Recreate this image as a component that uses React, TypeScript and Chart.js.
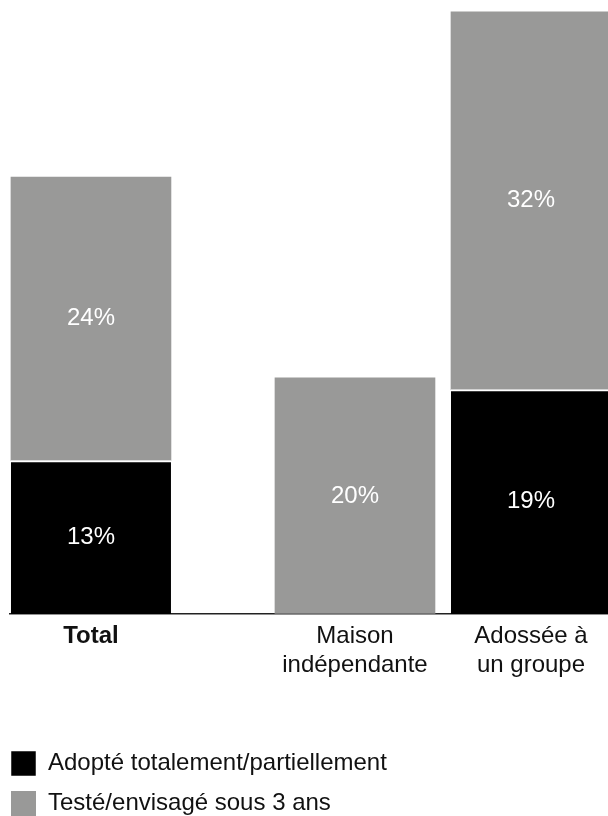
import React, { useEffect, useRef } from "react";
import { Chart, registerables } from "chart.js";

Chart.register(...registerables);

// Category slots (blank slots are spacers, as in the source chart)
const categories = ["Total", "", "", "Maison indépendante", "", "Adossée à un groupe"];
const tickLabels: string[][] = [["Total"], [], [], ["Maison", "indépendante"], [], ["Adossée à", "un groupe"]];
const adopte: (number | null)[] = [13, null, null, 0, null, 19];
const teste: (number | null)[] = [24, null, null, 20, null, 32];
const seriesNames = ["Adopté totalement/partiellement", "Testé/envisagé sous 3 ans"];

const FONT = "'Liberation Sans', Arial, Helvetica, sans-serif";

const valueLabels = {
  id: "valueLabels",
  afterDatasetsDraw(chart: any) {
    const ctx = chart.ctx;
    ctx.save();
    ctx.font = `24px ${FONT}`;
    ctx.fillStyle = "#ffffff";
    ctx.textAlign = "center";
    ctx.textBaseline = "middle";
    chart.data.datasets.forEach((ds: any, di: number) => {
      const meta = chart.getDatasetMeta(di);
      meta.data.forEach((el: any, i: number) => {
        const v = ds.data[i].y;
        if (!v) return;
        ctx.fillText(`${v}%`, el.x, (el.y + el.base) / 2);
      });
    });
    ctx.restore();
  },
};

function toPoints(values: (number | null)[]) {
  return categories
    .map((_, i) => ({ x: i, y: values[i] }))
    .filter((p) => p.y !== null) as { x: number; y: number }[];
}

export default function App() {
  const ref = useRef<HTMLCanvasElement | null>(null);

  useEffect(() => {
    if (!ref.current) return;
    const chart = new Chart(ref.current, {
      type: "bar",
      data: {
        datasets: [
          {
            label: seriesNames[0],
            data: toPoints(adopte),
            backgroundColor: "#000000",
            borderColor: "#ffffff",
            borderWidth: { top: 2, right: 0, bottom: 0, left: 0 },
            borderSkipped: false,
            barThickness: 160,
          },
          {
            label: seriesNames[1],
            data: toPoints(teste),
            backgroundColor: "#999998",
            borderWidth: 0,
            barThickness: 160,
          },
        ] as any,
      },
      options: {
        animation: false,
        responsive: false,
        layout: { padding: { left: -4, right: 0, top: 0, bottom: -10 } },
        scales: {
          x: {
            type: "linear",
            stacked: true,
            offset: false,
            bounds: "data",
            min: -0.92,
            max: 5.875,
            grid: { display: false, drawTicks: false, offset: false },
            border: { display: true, color: "#222222", width: 1.5 },
            afterBuildTicks: (scale: any) => {
              scale.ticks = categories
                .map((c, i) => ({ value: i, c }))
                .filter((t) => t.c !== "")
                .map((t) => ({ value: t.value }));
            },
            afterFit: (scale: any) => {
              scale.height = 122;
            },
            ticks: {
              autoSkip: false,
              maxRotation: 0,
              minRotation: 0,
              padding: 8,
              color: "#111111",
              font: (ctx: any) => ({
                family: FONT,
                size: 24,
                lineHeight: 1.2,
                weight: ctx.tick && ctx.tick.value === 0 ? "bold" : "normal",
              }),
              callback: (value: any) => tickLabels[Math.round(Number(value))] || "",
            },
          },
          y: {
            stacked: true,
            min: 0,
            max: 52,
            grid: { display: false, drawTicks: false },
            border: { display: false },
            ticks: { display: false },
            afterFit: (scale: any) => {
              scale.width = 14;
            },
          },
        },
        plugins: {
          legend: {
            display: true,
            position: "bottom",
            align: "start",
            labels: {
              boxWidth: 25,
              boxHeight: 25,
              padding: 15,
              color: "#111111",
              font: { family: FONT, size: 24 },
            },
          },
          tooltip: { enabled: false },
        },
      },
      plugins: [valueLabels],
    });
    return () => chart.destroy();
  }, []);

  return (
    <div style={{ position: "absolute", left: 0, top: 0, width: 608, height: 816, background: "#fff" }}>
      <canvas ref={ref} width={608} height={816} style={{ display: "block" }} />
    </div>
  );
}
